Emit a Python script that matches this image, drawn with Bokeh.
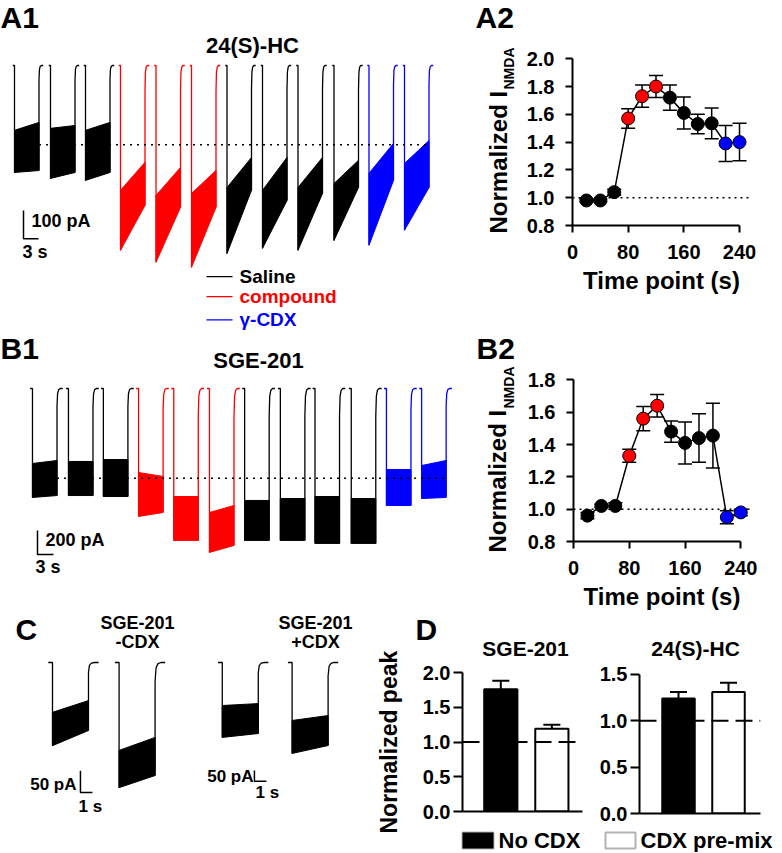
import math
from bokeh.plotting import figure
from bokeh.models import (Range1d, Label, Span, Whisker, ColumnDataSource, FixedTicker,
                          PrintfTickFormatter, BoxAnnotation, TeeHead)
from bokeh.layouts import row, column
from bokeh.embed import file_html
from bokeh.resources import INLINE

# ---------------- data ----------------
# A1: 24(S)-HC sweeps. onset time (s), plateau envelope (pA) at start and end of each application
a1_onset = [0.0, 7.2, 14.2, 21.2, 28.3, 35.4, 42.5, 49.6, 56.7, 63.9, 70.9, 78.0]
a1_top_start = [-229, -222, -229, -441, -459, -452, -431, -441, -431, -417, -381, -346]
a1_bot_start = [-378, -399, -406, -653, -695, -713, -664, -646, -653, -618, -635, -582]
a1_top_end = [-201, -212, -201, -342, -360, -371, -325, -325, -325, -335, -275, -265]
a1_bot_end = [-371, -378, -378, -494, -501, -501, -441, -477, -452, -431, -406, -431]
a1_cond = ["saline"] * 3 + ["compound"] * 3 + ["saline"] * 4 + ["cdx"] * 2
a1_control_level = -280

# B1: SGE-201 sweeps
b1_onset = [0.0, 6.75, 13.3, 19.9, 26.5, 33.2, 39.8, 46.5, 53.0, 59.8, 66.4, 73.0]
b1_top_start = [-625, -608, -592, -700, -900, -1033, -933, -917, -900, -917, -675, -642]
b1_bot_start = [-908, -892, -900, -1066, -1266, -1366, -1266, -1266, -1291, -1291, -975, -917]
b1_top_end = [-600, -608, -592, -733, -900, -975, -933, -917, -900, -917, -675, -600]
b1_bot_end = [-892, -892, -900, -1033, -1266, -1308, -1266, -1266, -1291, -1291, -975, -908]
b1_cond = ["saline"] * 3 + ["compound"] * 3 + ["saline"] * 4 + ["cdx"] * 2
b1_control_level = -747

# C: SGE-201 -CDX (pair 1) and +CDX (pair 2)
c_onset = [0.0, 5.55, 14.15, 19.97]
c_top_start = [-115, -203, -201, -271]
c_bot_start = [-192, -289, -350, -425]
c_top_end = [-88, -173, -192, -248]
c_bot_end = [-157, -261, -332, -388]
c_pair = ["minus", "minus", "plus", "plus"]

# A2 / B2 summary
time_points = [20, 40, 60, 80, 100, 120, 140, 160, 180, 200, 220, 240]
a2_mean = [0.98, 0.98, 1.04, 1.57, 1.73, 1.80, 1.72, 1.61, 1.53, 1.535, 1.39, 1.40]
a2_sem = [0.01, 0.01, 0.02, 0.07, 0.08, 0.08, 0.09, 0.115, 0.07, 0.11, 0.13, 0.135]
b2_mean = [0.96, 1.02, 1.02, 1.33, 1.56, 1.64, 1.48, 1.41, 1.44, 1.455, 0.95, 0.98]
b2_sem = [0.02, 0.01, 0.02, 0.04, 0.075, 0.07, 0.066, 0.13, 0.15, 0.2, 0.04, 0.02]
summary_cond = ["saline"] * 3 + ["compound"] * 3 + ["saline"] * 4 + ["cdx"] * 2
a2_yticks = [0.8, 1.0, 1.2, 1.4, 1.6, 1.8, 2.0]
b2_yticks = [0.8, 1.0, 1.2, 1.4, 1.6, 1.8]
time_ticks = [0, 80, 160, 240]

# D: normalized peak
d_groups = ["No CDX", "CDX pre-mix"]
d_sge_mean = [1.76, 1.19]
d_sge_sem = [0.12, 0.06]
d_hc_mean = [1.24, 1.31]
d_hc_sem = [0.07, 0.10]
d_sge_ticks = [0.0, 0.5, 1.0, 1.5, 2.0]
d_hc_ticks = [0.0, 0.5, 1.0, 1.5]

COLORS = {"saline": "#000000", "compound": "#ff0000", "cdx": "#0000ff"}
FONT = "Liberation Sans"


# ---------------- helpers ----------------
def label(p, x, y, text, size, color="black", units="screen", align="left",
          angle=0.0, yname=None):
    lab = Label(x=x, y=y, x_units=units, y_units=units, text=text, text_font=FONT,
                text_font_size=f"{size}px", text_font_style="bold", text_color=color,
                text_align=align, text_baseline="middle", angle=angle)
    if yname:
        lab.y_range_name = yname
    p.add_layout(lab)


def blank_fig(w, h, xr=(0, 1), yr=(0, 1)):
    p = figure(width=w, height=h, x_range=Range1d(*xr), y_range=Range1d(*yr),
               x_axis_location=None, y_axis_location=None, output_backend="svg",
               toolbar_location=None, title=None, min_border=0, frame_align=False)
    p.grid.visible = False
    p.outline_line_color = None
    p.background_fill_color = "white"
    p.border_fill_color = "white"
    return p


def add_sweeps(p, onset, dur, rise, ts, bs, te, be, colors, ynames=None):
    for i, (s, a, b, c, d, col) in enumerate(zip(onset, ts, bs, te, be, colors)):
        kw = {}
        if ynames is not None and ynames[i] != "default":
            kw["y_range_name"] = ynames[i]
        p.patch([s, s + dur, s + dur, s], [a, c, d, b], fill_color=col, line_color=col,
                line_width=1, **kw)
        p.line([s - 0.5 * rise, s, s], [0, 0, b], line_color=col, line_width=1.3, **kw)
        p.line([s + dur, s + dur, s + dur + 0.12 * rise, s + dur + 0.35 * rise,
                s + dur + 0.7 * rise, s + dur + 1.2 * rise],
               [d, 0.25 * c, 0.07 * c, 0.015 * c, 0, 0], line_color=col, line_width=1.3, **kw)


def style_axes(p, size=20):
    for ax in p.axis:
        ax.axis_line_width = 2
        ax.axis_line_color = "black"
        ax.major_tick_line_width = 2
        ax.major_tick_line_color = "black"
        ax.major_tick_in = 0
        ax.major_tick_out = 7
        ax.minor_tick_line_color = None
        ax.major_label_text_font = FONT
        ax.major_label_text_font_style = "bold"
        ax.major_label_text_font_size = f"{size}px"
        ax.major_label_text_color = "black"
        ax.axis_label_text_font = FONT
        ax.axis_label_text_font_style = "bold"
        ax.axis_label_text_font_size = "24px"
        ax.axis_label_text_color = "black"
    p.grid.visible = False
    p.outline_line_color = None


def summary_fig(w, h, xr, yr, borders, yticks, mean, sem, cond):
    left, right, top, bottom = borders
    p = figure(width=w, height=h, x_range=Range1d(*xr), y_range=Range1d(*yr),
               output_backend="svg", toolbar_location=None, title=None, frame_align=False,
               min_border_left=left, min_border_right=right, min_border_top=top,
               min_border_bottom=bottom)
    src = ColumnDataSource(dict(
        x=time_points, y=mean,
        lo=[m - s for m, s in zip(mean, sem)],
        hi=[m + s for m, s in zip(mean, sem)],
        fill=[COLORS[k] for k in cond]))
    p.add_layout(Span(location=1.0, dimension="width", line_color="black",
                      line_dash="2 4", line_width=1.5, level="underlay"))
    p.line("x", "y", source=src, line_color="black", line_width=1.5)
    wh = Whisker(base="x", upper="hi", lower="lo", source=src, line_color="black",
                 line_width=1.5, level="underlay",
                 upper_head=TeeHead(size=14, line_width=1.5, line_color="black"),
                 lower_head=TeeHead(size=14, line_width=1.5, line_color="black"))
    p.add_layout(wh)
    p.scatter("x", "y", source=src, size=13, fill_color="fill", line_color="black",
              line_width=1)
    style_axes(p, 20)
    p.xaxis.ticker = FixedTicker(ticks=time_ticks)
    p.xaxis.bounds = (time_ticks[0], time_ticks[-1])
    p.yaxis.ticker = FixedTicker(ticks=yticks)
    p.yaxis.bounds = (yticks[0], yticks[-1])
    p.yaxis.formatter = PrintfTickFormatter(format="%.1f")
    p.xaxis.major_label_standoff = 12
    p.yaxis.major_label_standoff = 11
    p.xaxis.axis_label = "Time point (s)"
    p.xaxis.axis_label_standoff = 5
    return p


def bar_fig(w, h, xr, yr, borders, yticks, mean, sem):
    left, right, top, bottom = borders
    p = figure(width=w, height=h, x_range=Range1d(*xr), y_range=Range1d(*yr),
               output_backend="svg", toolbar_location=None, title=None, frame_align=False,
               min_border_left=left, min_border_right=right, min_border_top=top,
               min_border_bottom=bottom)
    src = ColumnDataSource(dict(x=[1, 2], top=mean,
                                upper=[m + s for m, s in zip(mean, sem)],
                                fill=["black", "white"]))
    p.vbar(x="x", top="top", bottom=0, width=0.65, source=src, fill_color="fill",
           line_color="black", line_width=2)
    p.add_layout(Whisker(base="x", upper="upper", lower="top", source=src,
                         line_color="black", line_width=2,
                         upper_head=TeeHead(size=17, line_width=2, line_color="black"),
                         lower_head=None))
    p.add_layout(Span(location=1.0, dimension="width", line_color="black",
                      line_dash="17 7", line_width=2))
    style_axes(p, 20)
    p.yaxis.ticker = FixedTicker(ticks=yticks)
    p.yaxis.bounds = (yticks[0], yticks[-1])
    p.yaxis.formatter = PrintfTickFormatter(format="%.1f")
    p.yaxis.major_tick_out = 9
    p.yaxis.major_label_standoff = 3
    p.xaxis.ticker = FixedTicker(ticks=[])
    p.xaxis.major_label_text_font_size = "0px"
    return p


# ---------------- A1 ----------------
a1 = blank_fig(470, 331, (-2.8, 91.2), (-939.9, 229.7))
add_sweeps(a1, a1_onset, 4.9, 0.7, a1_top_start, a1_bot_start, a1_top_end, a1_bot_end,
           [COLORS[k] for k in a1_cond])
a1.line([a1_onset[0] + 4.9, a1_onset[-1] + 4.9], [a1_control_level, a1_control_level],
        line_color="black", line_dash="2 5", line_width=1.5)
a1.line([1.8, 1.8, 4.8], [-512, -612, -612], line_color="black", line_width=1.5)
label(a1, 3.4, -550, "100 pA", 18, units="data")
label(a1, 1.6, -660, "3 s", 18, units="data")
label(a1, 0, 314, "A1", 30)
label(a1, 252, 285.7, "24(S)-HC", 22, align="center")
for yline, name, key in [(-746, "Saline", "saline"),
                         (-817, "compound", "compound"),
                         (-899, "\u03b3-CDX", "cdx")]:
    a1.line([38.4, 43.6], [yline, yline], line_color=COLORS[key], line_width=1.2)
    label(a1, 45.0, yline, name, 19, color=COLORS[key], units="data")

# ---------------- A2 ----------------
a2_lab = blank_fig(50, 331)
label(a2_lab, 5, 314, "A2", 30)
label(a2_lab, 27.5, 98, "Normalized I", 24, angle=math.pi / 2)
label(a2_lab, 38, 242, "NMDA", 14, angle=math.pi / 2)
a2 = summary_fig(260, 331, (0, 255.8), (0.8, 2.059), (52, 30, 50, 106), a2_yticks,
                 a2_mean, a2_sem, summary_cond)

# ---------------- B1 ----------------
b1 = blank_fig(470, 281, (-6.0, 82.17), (-1866.7, 475.0))
add_sweeps(b1, b1_onset, 4.6, 0.9, b1_top_start, b1_bot_start, b1_top_end, b1_bot_end,
           [COLORS[k] for k in b1_cond])
b1.line([b1_onset[0] + 4.6, b1_onset[-1] + 4.6], [b1_control_level, b1_control_level],
        line_color="black", line_dash="2 5", line_width=1.5)
b1.line([0.94, 0.94, 3.94], [-1183, -1383, -1383], line_color="black", line_width=1.5)
label(b1, 2.44, -1264, "200 pA", 18, units="data")
label(b1, 0.56, -1489, "3 s", 18, units="data")
label(b1, 0, 264, "B1", 30)
label(b1, 258, 252, "SGE-201", 22, align="center")

# ---------------- B2 ----------------
b2_lab = blank_fig(50, 281)
label(b2_lab, 6, 264, "B2", 30)
label(b2_lab, 27, 60, "Normalized I", 24, angle=math.pi / 2)
label(b2_lab, 38, 204, "NMDA", 14, angle=math.pi / 2)
b2 = summary_fig(260, 281, (0, 253.9), (0.8, 1.864), (53, 30, 38, 65), b2_yticks,
                 b2_mean, b2_sem, summary_cond)

# ---------------- C ----------------
c = blank_fig(375, 240, (-4.333, 26.92), (-438.8, 115.5))
c.extra_y_ranges = {"plus": Range1d(-887.9, 233.6)}
add_sweeps(c, c_onset, 3.0, 0.7, c_top_start, c_bot_start, c_top_end, c_bot_end,
           ["black"] * 4, ynames=["default" if k == "minus" else "plus" for k in c_pair])
c.line([2.33, 2.33, 3.33], [-250, -300, -300], line_color="black", line_width=1.5)
label(c, 2.0, -282, "50 pA", 17, units="data", align="right")
label(c, 2.17, -333, "1 s", 17, units="data")
c.line([16.83, 16.83, 17.83], [-505, -555, -555], line_color="black", line_width=1.5,
       y_range_name="plus")
label(c, 16.75, -533, "50 pA", 17, units="data", align="right", yname="plus")
label(c, 16.92, -608, "1 s", 17, units="data", yname="plus")
label(c, 15, 223, "C", 30)
label(c, 137, 229.5, "SGE-201", 18, align="center")
label(c, 137, 210.3, "-CDX", 18, align="center")
label(c, 315, 229.5, "SGE-201", 18, align="center")
label(c, 315, 210.3, "+CDX", 18, align="center")

# ---------------- D ----------------
d_lab = blank_fig(40, 240)
label(d_lab, 13, 19, "Normalized peak", 23, angle=math.pi / 2)

d_head = blank_fig(365, 48)
label(d_head, 0, 31, "D", 30)
label(d_head, 110, 12, "SGE-201", 21, align="center")
label(d_head, 280, 12, "24(S)-HC", 21, align="center")

d1 = bar_fig(175, 166, (0.25, 2.6), (0, 2.173), (47, 8, 0, 15), d_sge_ticks,
             d_sge_mean, d_sge_sem)
d2 = bar_fig(190, 166, (0.22, 2.64), (0, 1.650), (49, 20, 0, 13), d_hc_ticks,
             d_hc_mean, d_hc_sem)

d_leg = blank_fig(365, 26)
d_leg.add_layout(BoxAnnotation(left=47, right=78, bottom=4, top=20, left_units="screen",
                               right_units="screen", bottom_units="screen",
                               top_units="screen", fill_color="black", fill_alpha=1,
                               line_color="black", line_width=2))
label(d_leg, 83, 12.5, d_groups[0], 22)
d_leg.add_layout(BoxAnnotation(left=190, right=220, bottom=4, top=20, left_units="screen",
                               right_units="screen", bottom_units="screen",
                               top_units="screen", fill_color="white", fill_alpha=1,
                               line_color="black", line_width=2))
label(d_leg, 225, 12.5, d_groups[1], 22)

layout = column(
    row(a1, a2_lab, a2),
    row(b1, b2_lab, b2),
    row(c, d_lab, column(d_head, row(d1, d2), d_leg)),
)
open("out.html", "w").write(file_html(layout, INLINE))
